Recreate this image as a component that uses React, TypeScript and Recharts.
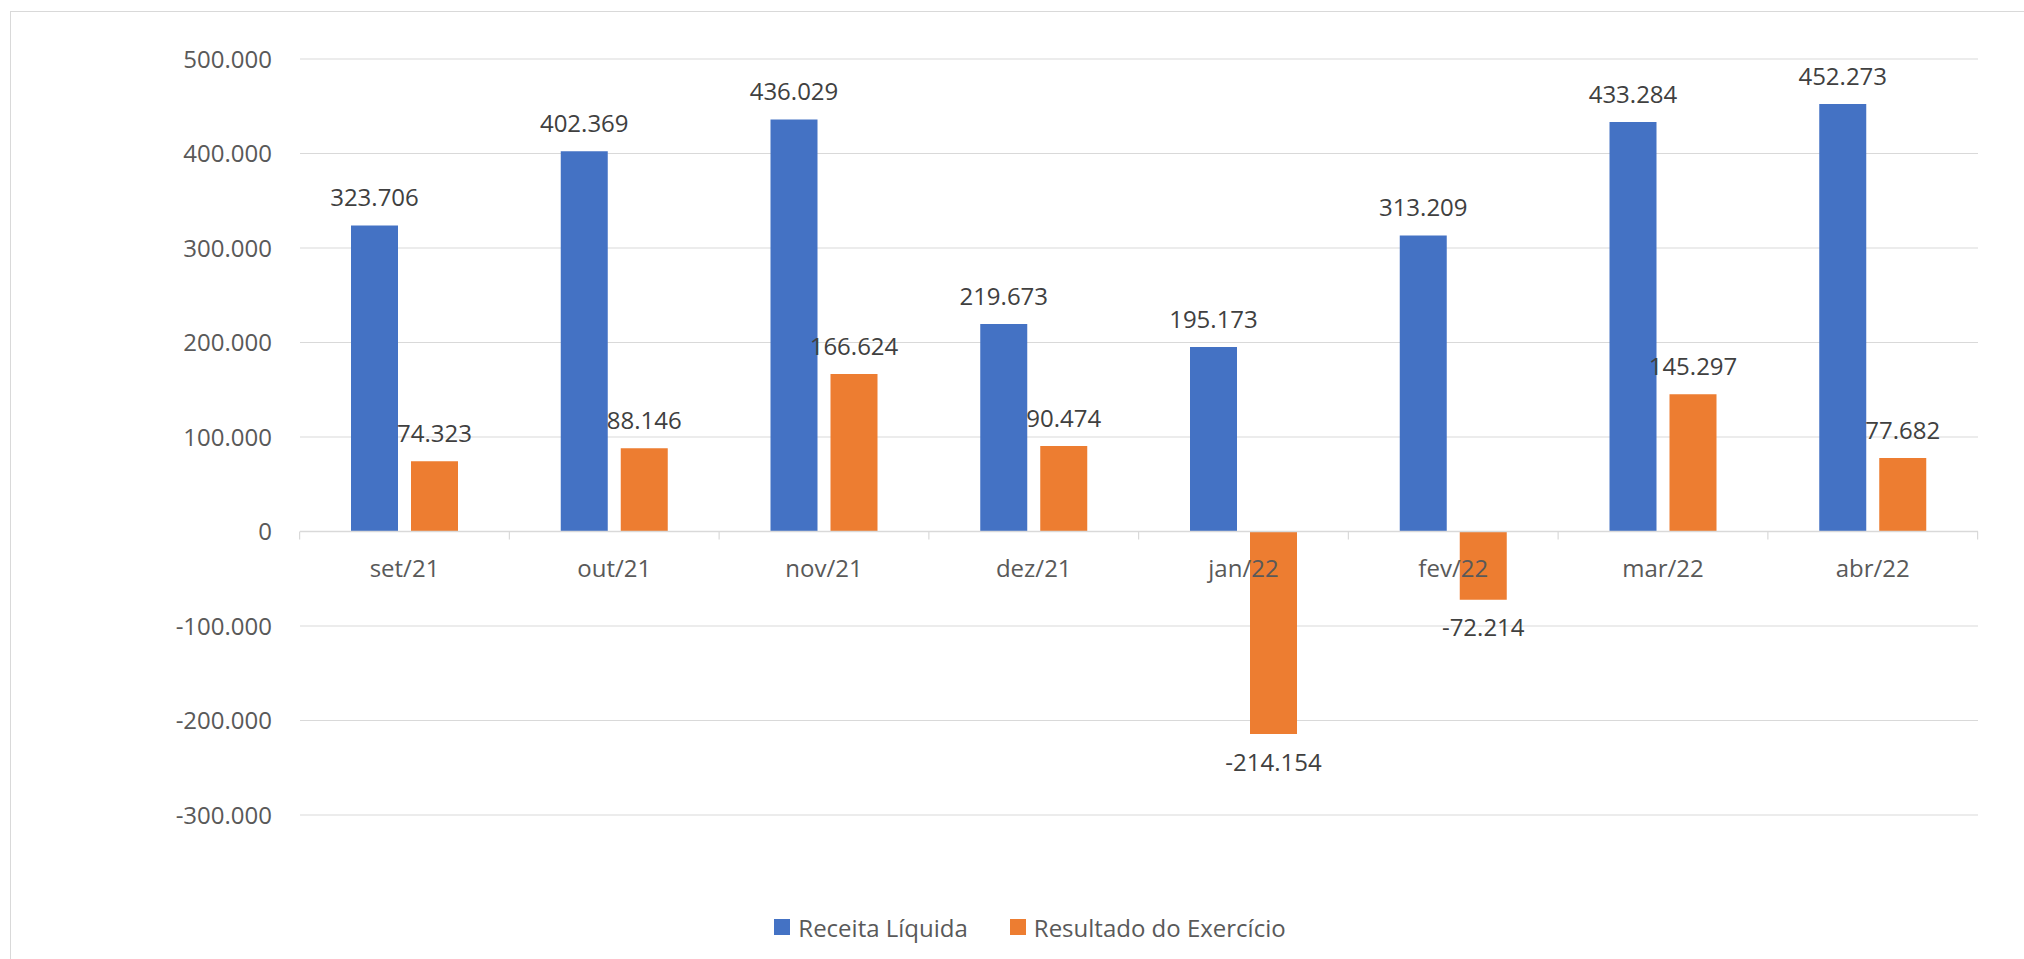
import React from 'react';
import { BarChart, Bar, XAxis, YAxis, CartesianGrid, ReferenceLine, LabelList, Legend } from 'recharts';

const months = ['set/21', 'out/21', 'nov/21', 'dez/21', 'jan/22', 'fev/22', 'mar/22', 'abr/22'];
const receitaLiquida = [323706, 402369, 436029, 219673, 195173, 313209, 433284, 452273];
const resultadoExercicio = [74323, 88146, 166624, 90474, -214154, -72214, 145297, 77682];
const yTicks = [-300000, -200000, -100000, 0, 100000, 200000, 300000, 400000, 500000];
const seriesNames = ['Receita Líquida', 'Resultado do Exercício'];
const seriesColors = ['#4472C4', '#ED7D31'];

const data = months.map((m, i) => ({ month: m, receita: receitaLiquida[i], resultado: resultadoExercicio[i] }));

const FONT = '"Open Sans", "Segoe UI", sans-serif';
const CHART_W = 2024;
const CHART_H = 959;
const MARGIN = { top: 59, right: 46, bottom: 144, left: 0 };
const YAXIS_W = 300;
const BAR_SIZE = 47;
const BAR_GAP = 13;
const PLOT_W = CHART_W - MARGIN.left - MARGIN.right - YAXIS_W;
const GRID = '#d9d9d9';

const fmt = (v: number) => {
  const s = String(Math.abs(Math.round(v))).replace(/\B(?=(\d{3})+(?!\d))/g, '.');
  return (v < 0 ? '-' : '') + s;
};

const geom = (props: any) => {
  const vb = props.viewBox || {};
  const x = Number(props.x ?? vb.x);
  const y = Number(props.y ?? vb.y);
  const w = Number(props.width ?? vb.width);
  const h = Number(props.height ?? vb.height);
  return { x, w, top: Math.min(y, y + h), bottom: Math.max(y, y + h) };
};

const makeValueLabel = (values: number[]) => (props: any) => {
  const { x, w, top, bottom } = geom(props);
  const v = values[props.index];
  const cy = v >= 0 ? top - 28 : bottom + 28;
  return (
    <text x={x + w / 2} y={cy} dy="0.36em" textAnchor="middle" fontSize={24} fill="#404040" fontFamily={FONT}>
      {fmt(v)}
    </text>
  );
};

const CategoryLabel = (props: any) => {
  const { x, top, bottom } = geom(props);
  const i = props.index;
  const v = resultadoExercicio[i];
  const zeroY = v >= 0 ? bottom : top;
  const cx = x - BAR_GAP / 2;
  const band = PLOT_W / months.length;
  return (
    <g>
      <line x1={cx - band / 2} x2={cx - band / 2} y1={zeroY} y2={zeroY + 8} stroke={GRID} strokeWidth={1.2} />
      {i === months.length - 1 && (
        <line x1={cx + band / 2} x2={cx + band / 2} y1={zeroY} y2={zeroY + 8} stroke={GRID} strokeWidth={1.2} />
      )}
      <text x={cx} y={zeroY + 36.5} dy="0.36em" textAnchor="middle" fontSize={24} fill="#595959" fontFamily={FONT}>
        {months[i]}
      </text>
    </g>
  );
};

const LegendContent = (props: any) => {
  const payload = props.payload || [];
  return (
    <div
      style={{
        display: 'flex',
        justifyContent: 'center',
        alignItems: 'center',
        height: 30,
        fontFamily: FONT,
        fontSize: 24,
        color: '#595959',
      }}
    >
      {payload.map((p: any, i: number) => (
        <div key={p.value} style={{ display: 'flex', alignItems: 'center', marginLeft: i ? 42 : 0 }}>
          <span style={{ width: 16, height: 16, background: p.color, marginRight: 8, display: 'inline-block' }} />
          <span>{p.value}</span>
        </div>
      ))}
    </div>
  );
};

export default function App() {
  return (
    <div style={{ position: 'absolute', left: 0, top: 0, width: CHART_W, height: CHART_H, overflow: 'hidden', background: '#fff' }}>
      <div
        style={{
          position: 'absolute',
          left: 10,
          top: 11,
          width: 2100,
          height: 1000,
          border: `1.5px solid ${GRID}`,
          boxSizing: 'border-box',
        }}
      />
      <div style={{ position: 'absolute', left: 0, top: 0 }}>
        <BarChart width={CHART_W} height={CHART_H} data={data} margin={MARGIN} barSize={BAR_SIZE} barGap={BAR_GAP}>
          <CartesianGrid vertical={false} stroke={GRID} strokeWidth={1.2} />
          <XAxis dataKey="month" hide />
          <YAxis
            width={YAXIS_W}
            domain={[-300000, 500000]}
            ticks={yTicks}
            axisLine={false}
            tickLine={false}
            tickMargin={22}
            tickFormatter={fmt}
            tick={{ fontSize: 24, fill: '#595959', fontFamily: FONT }}
            interval={0}
          />
          <ReferenceLine y={0} stroke={GRID} strokeWidth={1.5} />
          <Bar dataKey="receita" name={seriesNames[0]} fill={seriesColors[0]} isAnimationActive={false}>
            <LabelList dataKey="receita" content={makeValueLabel(receitaLiquida)} />
          </Bar>
          <Bar dataKey="resultado" name={seriesNames[1]} fill={seriesColors[1]} isAnimationActive={false}>
            <LabelList dataKey="resultado" content={makeValueLabel(resultadoExercicio)} />
            <LabelList dataKey="month" content={CategoryLabel} />
          </Bar>
          <Legend
            verticalAlign="middle"
            align="center"
            wrapperStyle={{ top: 912, left: 0, width: 2060 }}
            content={LegendContent}
          />
        </BarChart>
      </div>
    </div>
  );
}
